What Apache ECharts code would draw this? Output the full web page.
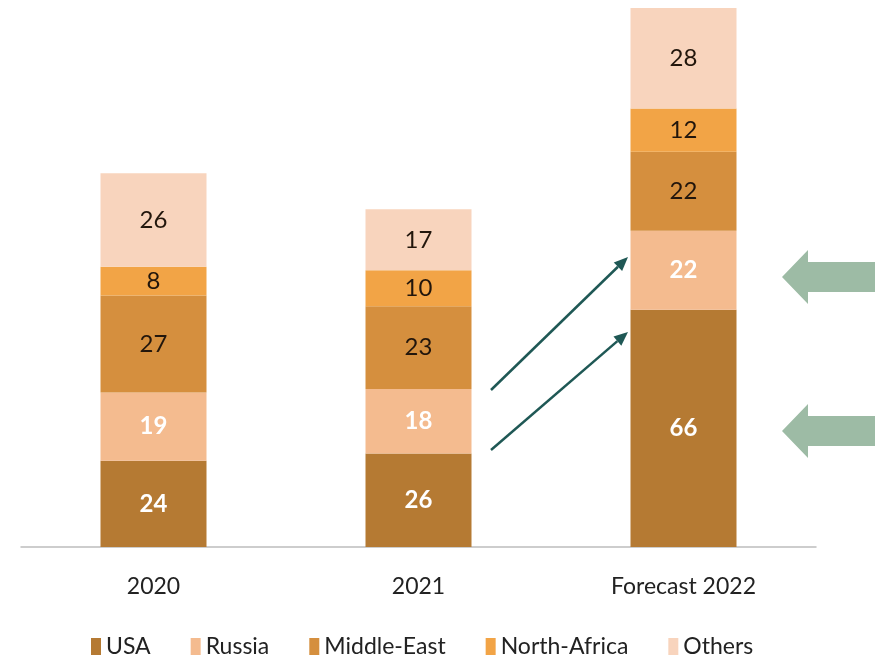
<!DOCTYPE html>
<html>
<head>
<meta charset="utf-8">
<script src="https://cdn.jsdelivr.net/npm/echarts@6/dist/echarts.min.js"></script>
<style>
  html, body { margin: 0; padding: 0; background: #fff; }
  #main { width: 884px; height: 661px; }
</style>
</head>
<body>
<div id="main"></div>
<script>
const categories = ['2020', '2021', 'Forecast 2022'];
const usa = [24, 26, 66];
const russia = [19, 18, 22];
const middleEast = [27, 23, 22];
const northAfrica = [8, 10, 12];
const others = [26, 17, 28];

const FONT = 'Lato, "Open Sans", sans-serif';

const chart = echarts.init(document.getElementById('main'));

function bar(name, data, color, labelColor, bold) {
  return {
    name: name,
    type: 'bar',
    stack: 'total',
    barWidth: '40%',
    data: data,
    itemStyle: { color: color },
    label: {
      show: true,
      position: 'inside',
      color: labelColor,
      fontFamily: FONT,
      fontSize: 24,
      fontWeight: bold ? 'bold' : 'normal'
    }
  };
}

chart.setOption({
  animation: false,
  grid: { left: 21, right: 68, top: 8, bottom: 114 },
  legend: {
    bottom: -2,
    left: 86,
    itemWidth: 10,
    itemHeight: 17,
    itemGap: 40,
    icon: 'rect',
    textStyle: { fontFamily: FONT, fontSize: 23, color: '#222' },
    data: ['USA', 'Russia', 'Middle-East', 'North-Africa', 'Others']
  },
  xAxis: {
    type: 'category',
    data: categories,
    axisLine: { lineStyle: { color: '#bdbdbd', width: 1.5 } },
    axisTick: { show: false },
    axisLabel: { color: '#222', fontFamily: FONT, fontSize: 23, margin: 28 }
  },
  yAxis: {
    type: 'value',
    min: 0,
    max: 150,
    show: false,
    splitLine: { show: false }
  },
  series: [
    bar('USA', usa, '#b57a33', '#ffffff', true),
    bar('Russia', russia, '#f4bb8f', '#ffffff', true),
    bar('Middle-East', middleEast, '#d58f3e', '#22160c', false),
    bar('North-Africa', northAfrica, '#f2a446', '#22160c', false),
    bar('Others', others, '#f8d4bd', '#22160c', false)
  ]
});

// annotation arrows
const dark = '#1f5855';
const green = '#9dbba5';

function arrowLine(x1, y1, x2, y2) {
  const ang = Math.atan2(y2 - y1, x2 - x1);
  const len = 14, half = 6;
  const bx = x2 - len * Math.cos(ang), by = y2 - len * Math.sin(ang);
  const px = -Math.sin(ang) * half, py = Math.cos(ang) * half;
  return [
    { type: 'line', shape: { x1: x1, y1: y1, x2: bx, y2: by }, style: { stroke: dark, lineWidth: 2.5 } },
    { type: 'polygon', shape: { points: [[x2, y2], [bx + px, by + py], [bx - px, by - py]] }, style: { fill: dark } }
  ];
}

function fatArrow(cy) {
  return {
    type: 'polygon',
    shape: {
      points: [[782, cy], [808, cy - 27], [808, cy - 15], [875, cy - 15],
               [875, cy + 15], [808, cy + 15], [808, cy + 27]]
    },
    style: { fill: green }
  };
}

chart.setOption({
  graphic: [].concat(
    arrowLine(491, 390, 628, 257),
    arrowLine(491, 450, 628, 332),
    [fatArrow(277), fatArrow(431)]
  )
});
</script>
</body>
</html>
